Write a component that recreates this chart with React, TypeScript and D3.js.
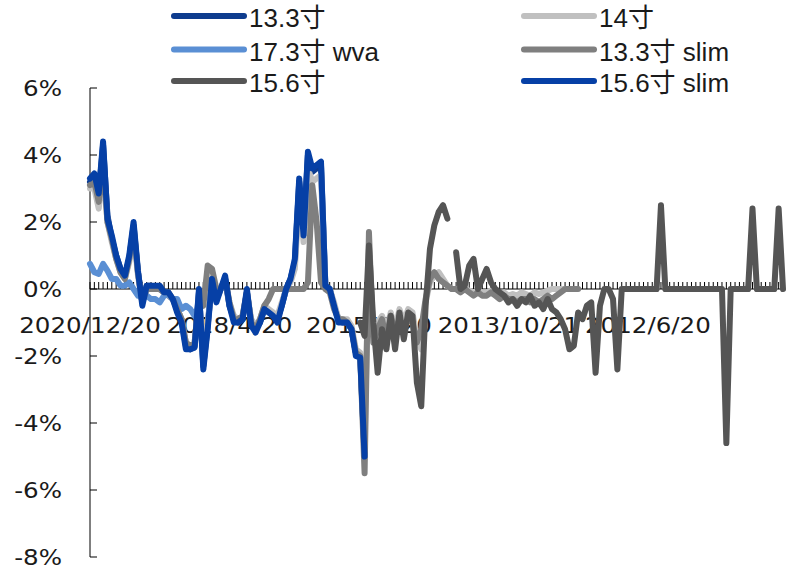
import React from "react";
import * as d3 from "d3";

// ---- data ----
const categoryCount = 160; // price-record dates, newest (left) to oldest (right)
const tickLabels = ["2020/12/20", "2018/4/20", "2015/8/20", "2013/10/21", "2012/6/20"];
const tickLabelIndex = [0, 32, 64, 96, 128];
const yTicks = [6, 4, 2, 0, -2, -4, -6, -8];

const seriesNames = ["13.3寸", "14寸", "17.3寸 wva", "13.3寸 slim", "15.6寸", "15.6寸 slim"];
const seriesColors = ["#0E3C8E", "#C0C0C0", "#5A8FD4", "#7F7F7F", "#555555", "#0640A6"];
const seriesStart = [0, 0, 0, 0, 62, 0];

const s133 = [3.2, 3.4, 2.8, 4.3, 2.2, 1.5, 1.0, 0.6, 0.4, 0.9,
  1.9, 0.5, -0.4, 0.1, 0.1, 0.0, 0.0, -0.1, -0.2, -0.3,
  -0.6, -0.9, -1.7, -1.8, -1.7, -0.1, -2.3, -1.1, 0.3, -0.3,
  0.0, 0.3, -0.5, -0.9, -1.0, -0.9, -0.1, -1.0, -1.2, -1.0,
  -0.6, -0.7, -0.8, -0.9, -0.5, 0.0, 0.3, 0.8, 3.2, 1.6,
  4.0, 3.5, 3.6, 3.7, 0.1, 0.0, -0.5, -0.9, -1.0, -1.0,
  -1.2, -1.9, -2.0, -4.9];

const s14 = [3.0, 3.0, 2.4, 3.6, 2.0, 1.4, 0.9, 0.5, 0.3, 0.8,
  1.7, 0.4, -0.4, 0.0, 0.0, 0.0, 0.0, -0.1, -0.2, -0.3,
  -0.6, -0.9, -1.6, -1.7, -1.6, -0.2, -2.0, -1.0, 0.2, -0.3,
  0.0, 0.3, -0.4, -0.8, -0.9, -0.8, -0.1, -0.9, -1.1, -0.9,
  -0.5, -0.6, -0.7, -0.8, -0.4, 0.0, 0.2, 0.6, 2.8, 1.4,
  3.6, 3.2, 3.3, 3.4, 0.1, 0.0, -0.4, -0.9, -0.9, -0.9,
  -1.1, -1.8, -1.9, -4.6, 1.2, -1.3, -1.0, -0.8, -1.2, -0.7,
  -1.2, -0.6, -1.0, -0.6, -0.7, -1.5, -1.8, -0.4, 0.2, 0.4,
  0.5, 0.3, 0.1, 0.0, 0.0, -0.05, 0.0, -0.05, -0.1, -0.05,
  -0.1, -0.1, -0.05, -0.1, -0.15, -0.1, -0.2, -0.15, -0.2, -0.1,
  -0.15, -0.2, -0.1, -0.15, -0.1, -0.05, 0.0, 0.0, 0.0, 0.0, 0.0];

const s173wva = [0.75, 0.5, 0.45, 0.75, 0.55, 0.3, 0.3, 0.1, 0.1, 0.2,
  0.0, -0.2, -0.1, -0.2, -0.3, -0.3, -0.4, -0.2, -0.15, -0.3,
  -0.3, -0.6, -0.5, -0.6, -0.8, -0.5];

const s133slim = [3.1, 3.2, 2.6, 3.9, 2.0, 1.5, 0.9, 0.5, 0.3, 0.9,
  1.8, 0.5, -0.4, 0.0, 0.0, 0.0, 0.0, -0.1, -0.1, -0.3,
  -0.6, -0.9, -1.6, -1.7, -1.6, -0.3, -0.5, 0.7, 0.6, 0.0,
  0.0, 0.3, -0.4, -0.9, -0.9, -0.8, -0.1, -1.0, -1.2, -0.9,
  -0.5, -0.3, 0.0, 0.0, 0.0, 0.0, 0.0, 0.0, 0.0, 0.0,
  0.2, 3.1, 2.0, 0.2, 0.0, -0.1, -0.6, -0.9, -0.9, -1.0,
  -1.2, -1.9, -2.0, -5.5, 1.7, -1.6, -1.2, -0.9, -1.5, -0.8,
  -1.3, -0.9, -1.2, -0.9, -1.0, -1.6, -1.2, -0.3, 0.3, 0.5,
  0.3, 0.2, 0.1, 0.0, 0.0, -0.1, 0.0, -0.1, -0.2, -0.1,
  -0.2, -0.2, -0.1, -0.2, -0.3, -0.2, -0.3, -0.3, -0.4, -0.3,
  -0.3, -0.4, -0.3, -0.4, -0.3, -0.2, -0.3, -0.2, -0.1, 0.0,
  0.0, 0.0, 0.0];

const s156 = [-1.0, -1.4, 1.3, -1.0, -2.5, -1.2, -1.8, -0.8,
  -1.8, -0.7, -1.5, -0.7, -0.8, -2.8, -3.5, -0.5, 1.2, 1.9,
  2.3, 2.5, 2.1, null, 1.1, 0.0, 0.1, 0.7, 0.9, 0.0,
  0.3, 0.6, 0.2, 0.0, -0.1, -0.2, -0.4, -0.3, -0.5, -0.3,
  -0.4, -0.2, -0.5, -0.4, -0.6, -0.3, -0.6, -0.7, -0.9, -1.2,
  -1.8, -1.7, -0.7, -0.9, -0.5, -0.4, -2.5, -0.5, 0.0, 0.0,
  -0.3, -2.4, 0.0, 0.0, 0.0, 0.0, 0.0, 0.0, 0.0, 0.0,
  0.0, 2.5, 0.0, 0.0, 0.0, 0.0, 0.0, 0.0, 0.0, 0.0,
  0.0, 0.0, 0.0, 0.0, 0.0, 0.0, -4.6, 0.0, 0.0, 0.0,
  0.0, 0.0, 2.4, 0.0, 0.0, 0.0, 0.0, 0.0, 2.4, 0.0];

const s156slim = [3.3, 3.45, 2.85, 4.4, 2.1, 1.6, 1.0, 0.6, 0.4, 1.0,
  2.0, 0.55, -0.5, 0.1, 0.1, 0.1, 0.1, -0.1, -0.1, -0.3,
  -0.7, -1.0, -1.8, -1.8, -1.75, 0.0, -2.4, -1.2, 0.3, -0.4,
  0.0, 0.4, -0.5, -1.0, -1.0, -0.9, 0.0, -1.1, -1.3, -1.0,
  -0.6, -0.7, -0.8, -1.0, -0.5, 0.0, 0.3, 0.9, 3.3, 1.6,
  4.1, 3.6, 3.7, 3.8, 0.1, 0.0, -0.5, -1.0, -1.0, -1.0,
  -1.2, -2.0, -2.05, -5.0];

const seriesValues = [s133, s14, s173wva, s133slim, s156, s156slim];

// ---- layout ----
const W = 800;
const H = 577;
const axisFont = "'DejaVu Sans', Verdana, sans-serif";
const legendFont = "'Liberation Sans', Arial, 'Noto Sans CJK SC', sans-serif";

export default function App() {
  const cats = d3.range(categoryCount);
  const x = d3.scalePoint<number>().domain(cats).range([90, 783]);
  const y = d3.scaleLinear().domain([-8, 6]).range([557, 88]);

  const line = d3
    .line<{ i: number; v: number | null }>()
    .defined((d) => d.v != null)
    .x((d) => x(d.i) as number)
    .y((d) => y(d.v as number));

  const series = seriesNames.map((name, k) => ({
    name,
    color: seriesColors[k],
    pts: seriesValues[k].map((v, j) => ({ i: seriesStart[k] + j, v })),
  }));

  const y0 = y(0);
  const legendCols = [174, 524];
  const legendRows = [16, 49.5, 81];

  return (
    <svg
      width={W}
      height={H}
      style={{ position: "absolute", left: 0, top: 0, background: "#fff" }}
    >
      <rect width={W} height={H} fill="#fff" />
      {/* legend */}
      {series.map((s, k) => {
        const col = k % 2;
        const row = Math.floor(k / 2);
        const lx = legendCols[col];
        const ly = legendRows[row];
        return (
          <g key={"lg" + k}>
            <line
              x1={lx}
              x2={lx + 70}
              y1={ly}
              y2={ly}
              stroke={s.color}
              strokeWidth={6}
              strokeLinecap="round"
            />
            <text
              x={lx + 75}
              y={ly + 11}
              fontFamily={legendFont}
              fontSize={26}
              fill="#1a1a1a"
            >
              {s.name}
            </text>
          </g>
        );
      })}

      {/* y axis */}
      <line x1={90} x2={90} y1={y(6)} y2={y(-8)} stroke="#000" strokeWidth={1} />
      {yTicks.map((t) => (
        <g key={"yt" + t}>
          <line x1={90} x2={97} y1={y(t)} y2={y(t)} stroke="#000" strokeWidth={1} />
          <text
            transform={`translate(62,${y(t) + 8}) scale(1.17,1)`}
            textAnchor="end"
            fontFamily={axisFont}
            fontSize={21}
            fill="#1a1a1a"
          >
            {t + "%"}
          </text>
        </g>
      ))}

      {/* x axis */}
      <line x1={90} x2={783} y1={y0} y2={y0} stroke="#000" strokeWidth={1} />
      {cats.map((c) => (
        <line
          key={"xt" + c}
          x1={x(c)}
          x2={x(c)}
          y1={y0}
          y2={y0 - 7}
          stroke="#000"
          strokeWidth={1}
        />
      ))}
      {tickLabels.map((lab, k) => (
        <text
          key={"xl" + k}
          transform={`translate(${x(tickLabelIndex[k])},333) scale(1.17,1)`}
          textAnchor="middle"
          fontFamily={axisFont}
          fontSize={21}
          fill="#1a1a1a"
        >
          {lab}
        </text>
      ))}

      {/* series */}
      {series.map((s, k) => (
        <path
          key={"s" + k}
          d={line(s.pts) || ""}
          fill="none"
          stroke={s.color}
          strokeWidth={6}
          strokeLinejoin="round"
          strokeLinecap="round"
        />
      ))}
    </svg>
  );
}
